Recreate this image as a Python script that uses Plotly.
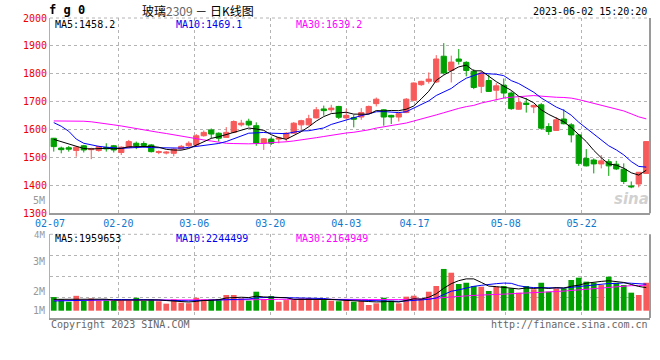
import plotly.graph_objects as go

# ---------------- data ----------------
dates = ["02-07", "02-08", "02-09", "02-10", "02-13", "02-14", "02-15", "02-16", "02-17",
         "02-20", "02-21", "02-22", "02-23", "02-24", "02-27", "02-28",
         "03-01", "03-02", "03-03", "03-06", "03-07", "03-08", "03-09", "03-10",
         "03-13", "03-14", "03-15", "03-16", "03-17", "03-20", "03-21", "03-22", "03-23", "03-24",
         "03-27", "03-28", "03-29", "03-30", "03-31",
         "04-03", "04-04", "04-06", "04-07", "04-10", "04-11", "04-12", "04-13", "04-14",
         "04-17", "04-18", "04-19", "04-20", "04-21", "04-24", "04-25", "04-26", "04-27", "04-28",
         "05-04", "05-05", "05-08", "05-09", "05-10", "05-11", "05-12",
         "05-15", "05-16", "05-17", "05-18", "05-19", "05-22", "05-23", "05-24", "05-25", "05-26",
         "05-29", "05-30", "05-31", "06-01", "06-02"]

opens = [1569, 1534, 1535, 1525, 1542, 1528, 1525, 1536, 1542, 1518,
         1536, 1551, 1550, 1545, 1518, 1516, 1515, 1531, 1542, 1545,
         1578, 1599, 1587, 1572, 1590, 1617, 1630, 1614, 1551, 1566,
         1566, 1569, 1587, 1617, 1617, 1642, 1674, 1671, 1683, 1642,
         1643, 1645, 1659, 1693, 1671, 1651, 1645, 1661, 1705, 1761,
         1773, 1771, 1863, 1812, 1853, 1841, 1809, 1755, 1776, 1741,
         1759, 1731, 1673, 1695, 1681, 1689, 1611, 1597, 1638, 1617,
         1581, 1497, 1491, 1477, 1485, 1476, 1458, 1398, 1405, 1443]
highs = [1570, 1539, 1541, 1541, 1545, 1535, 1542, 1551, 1545, 1540,
         1563, 1557, 1558, 1548, 1525, 1523, 1533, 1545, 1558, 1584,
         1597, 1604, 1590, 1609, 1633, 1635, 1639, 1626, 1570, 1575,
         1575, 1591, 1627, 1635, 1653, 1681, 1686, 1689, 1685, 1675,
         1653, 1677, 1686, 1715, 1673, 1653, 1661, 1713, 1769, 1775,
         1805, 1867, 1910, 1865, 1889, 1845, 1817, 1809, 1797, 1767,
         1783, 1737, 1715, 1713, 1689, 1695, 1623, 1645, 1673, 1623,
         1583, 1530, 1497, 1509, 1494, 1488, 1479, 1414, 1448, 1558]
lows = [1521, 1515, 1521, 1503, 1518, 1494, 1521, 1521, 1518, 1509,
        1533, 1530, 1535, 1518, 1512, 1511, 1504, 1528, 1538, 1541,
        1575, 1569, 1557, 1570, 1587, 1611, 1611, 1542, 1527, 1545,
        1551, 1557, 1585, 1593, 1615, 1640, 1650, 1661, 1638, 1636,
        1608, 1635, 1657, 1683, 1614, 1620, 1629, 1659, 1701, 1757,
        1765, 1767, 1797, 1769, 1833, 1791, 1745, 1731, 1735, 1705,
        1712, 1671, 1671, 1661, 1659, 1599, 1581, 1595, 1619, 1554,
        1470, 1468, 1443, 1461, 1434, 1455, 1405, 1390, 1393, 1441]
closes = [1539, 1528, 1530, 1537, 1527, 1531, 1539, 1531, 1527, 1537,
          1557, 1542, 1543, 1521, 1521, 1519, 1530, 1540, 1551, 1578,
          1590, 1584, 1569, 1590, 1629, 1623, 1617, 1551, 1567, 1551,
          1570, 1587, 1623, 1632, 1639, 1671, 1668, 1677, 1644, 1651,
          1637, 1661, 1683, 1709, 1645, 1645, 1657, 1709, 1767, 1773,
          1781, 1853, 1803, 1842, 1845, 1812, 1751, 1803, 1737, 1757,
          1731, 1675, 1697, 1690, 1687, 1605, 1593, 1635, 1621, 1581,
          1479, 1470, 1477, 1488, 1470, 1459, 1414, 1395, 1447, 1557]
# volume, millions
volumes_m = [1.13, 0.94, 0.74, 1.23, 0.82, 1.01, 0.83, 0.86, 0.83, 0.83,
             0.83, 1.07, 0.83, 0.94, 0.78, 0.58, 0.94, 0.66, 0.62, 1.07,
             0.94, 0.97, 0.97, 1.30, 1.30, 1.02, 0.83, 1.57, 0.97, 1.21,
             0.74, 0.88, 0.88, 1.02, 1.05, 0.88, 0.88, 0.83, 0.78, 0.97,
             0.74, 0.83, 0.47, 0.61, 1.07, 0.83, 0.61, 1.16, 1.24, 0.97,
             1.57, 2.04, 3.45, 3.14, 2.21, 2.31, 2.04, 1.98, 1.63, 1.98,
             2.04, 1.85, 1.49, 2.04, 1.77, 2.31, 1.57, 1.85, 1.85, 2.54,
             2.73, 2.40, 2.31, 2.12, 2.81, 2.31, 2.12, 1.49, 1.30, 2.31]

# moving-average values at the start of the window (they include days before 02-07)
ma5_lead = [1565, 1557, 1548, 1540]
ma10_lead = [1625, 1612, 1594, 1566, 1551, 1545, 1540, 1537, 1534]
ma30_lead = [1631, 1631, 1631, 1631, 1630, 1628, 1625, 1621, 1617, 1613,
             1608, 1603, 1598, 1594, 1590, 1586, 1581, 1576, 1571, 1567,
             1563, 1559, 1554, 1551, 1550, 1549, 1549, 1550, 1550]
vol_ma5_lead = [0.94, 0.94, 0.95, 0.96]
vol_ma10_lead = [0.80, 0.82, 0.85, 0.88, 0.90, 0.91, 0.92, 0.92, 0.92]
vol_ma30_lead = [0.86, 0.86, 0.86, 0.86, 0.86, 0.86, 0.86, 0.86, 0.86, 0.86,
                 0.86, 0.86, 0.86, 0.86, 0.85, 0.85, 0.85, 0.85, 0.85, 0.86,
                 0.86, 0.86, 0.87, 0.88, 0.89, 0.90, 0.90, 0.91, 0.92]

label_dates = ["02-07", "02-20", "03-06", "03-20", "04-03", "04-17", "05-08", "05-22"]
price_ticks = [1300, 1400, 1500, 1600, 1700, 1800, 1900, 2000]
vol_tick_labels = ["5M", "4M", "3M", "2M", "1M"]

title_code = "f g 0"
title_name = "玻璃"
title_contract = "2309"
title_tail = " － 日K线图"
timestamp = "2023-06-02 15:20:20"
price_ma_text = ["MA5:1458.2", "MA10:1469.1", "MA30:1639.2"]
vol_ma_text = ["MA5:1959653", "MA10:2244499", "MA30:2164949"]
footer_left = "Copyright 2023 SINA.COM"
footer_right = "http://finance.sina.com.cn"

# ---------------- helpers ----------------
def moving_avg(vals, n, lead):
    out = list(lead)
    for i in range(n - 1, len(vals)):
        out.append(sum(vals[i - n + 1:i + 1]) / n)
    return out

n = len(dates)
xs = list(range(n))
ma5 = moving_avg(closes, 5, ma5_lead)
ma10 = moving_avg(closes, 10, ma10_lead)
ma30 = moving_avg(closes, 30, ma30_lead)
vma5 = moving_avg(volumes_m, 5, vol_ma5_lead)
vma10 = moving_avg(volumes_m, 10, vol_ma10_lead)
vma30 = moving_avg(volumes_m, 30, vol_ma30_lead)

RED = "#f75a5a"
GREEN = "#00a000"
MONO = "DejaVu Sans Mono"
GRID = "#b4b4b4"
BORDER = "#9a9a9a"

W, H = 660, 360
L_PX, R_PX, T_PX, B_PX = 50, 650, 18, 318


def xp(px):
    return (px - L_PX) / (R_PX - L_PX)


def yp(py):
    return (B_PX - py) / (B_PX - T_PX)

# grid positions of date labels (Sina spaces them on n-1 steps)
idx_of = {d: i for i, d in enumerate(dates)}
grid_x = [idx_of[d] * n / (n - 1) - 0.5 for d in label_dates]

main_dom = [yp(213.3), 1.0]
vol_dom = [0.0, yp(234.3)]
# volume axis: zero at y=310.7 px, 12.1 px per million
vol_lo = -(B_PX - 310.7) / 12.1
vol_hi = (310.7 - 234.3) / 12.1
vol_grid = [vol_lo + k * (vol_hi - vol_lo) / 4 for k in (1, 2, 3)]

fig = go.Figure()

fig.add_trace(go.Candlestick(
    x=xs, open=opens, high=highs, low=lows, close=closes,
    increasing=dict(line=dict(color=RED, width=1), fillcolor=RED),
    decreasing=dict(line=dict(color=GREEN, width=1), fillcolor=GREEN),
    whiskerwidth=0, xaxis="x", yaxis="y", showlegend=False, hoverinfo="skip"))

for vals, col in ((ma30, "#ff00ff"), (ma10, "#0000ff"), (ma5, "#000000")):
    fig.add_trace(go.Scatter(x=xs, y=vals, mode="lines", line=dict(color=col, width=1),
                             xaxis="x", yaxis="y", showlegend=False, hoverinfo="skip"))

bar_colors = [RED if c >= o else GREEN for o, c in zip(opens, closes)]
fig.add_trace(go.Bar(x=xs, y=volumes_m, marker=dict(color=bar_colors, line=dict(width=0)),
                     xaxis="x2", yaxis="y2", showlegend=False, hoverinfo="skip"))
for vals, col in ((vma30, "#ff00ff"), (vma10, "#0000ff"), (vma5, "#000000")):
    fig.add_trace(go.Scatter(x=xs, y=vals, mode="lines", line=dict(color=col, width=1),
                             xaxis="x2", yaxis="y2", showlegend=False, hoverinfo="skip"))

xcommon = dict(range=[-0.5, n - 0.5], tickmode="array", tickvals=grid_x,
               showgrid=True, gridcolor=GRID, griddash="dot", gridwidth=1,
               zeroline=False, ticks="", fixedrange=True)

fig.update_layout(
    width=W, height=H,
    margin=dict(l=L_PX, r=W - R_PX, t=T_PX, b=H - B_PX),
    paper_bgcolor="white", plot_bgcolor="white",
    showlegend=False, bargap=0.24, boxgap=0.3, boxgroupgap=0,
    xaxis=dict(**xcommon, ticktext=label_dates, anchor="y",
               tickfont=dict(family=MONO, size=10, color="#1177cc"),
               showline=True, linecolor=BORDER, linewidth=2,
               rangeslider=dict(visible=False)),
    yaxis=dict(domain=main_dom, range=[1300, 2000], tickmode="array", tickvals=price_ticks,
               ticktext=[str(v) for v in price_ticks],
               tickfont=dict(family=MONO, size=10, color="#ee0000"),
               showgrid=True, gridcolor=GRID, griddash="dot", zeroline=False, ticks="",
               showline=True, linecolor="#b0b0b0", linewidth=1, fixedrange=True),
    xaxis2=dict(**xcommon, showticklabels=False, anchor="y2",
                showline=True, linecolor=BORDER, linewidth=2),
    yaxis2=dict(domain=vol_dom, range=[vol_lo, vol_hi], tickmode="array", tickvals=vol_grid,
                showticklabels=False, showgrid=True, gridcolor=GRID, griddash="dot",
                zeroline=False, ticks="", showline=True, linecolor="#b0b0b0", linewidth=1,
                fixedrange=True, anchor="x2"),
)

shapes = []
for xr, yr in (("x domain", "y domain"), ("x2 domain", "y2 domain")):
    shapes.append(dict(type="line", xref=xr, yref=yr, x0=1, x1=1, y0=0, y1=1,
                       line=dict(color=BORDER, width=2)))
    shapes.append(dict(type="line", xref=xr, yref=yr, x0=0, x1=1, y0=1, y1=1,
                       line=dict(color=GRID, width=1, dash="dot")))
fig.update_layout(shapes=shapes)

ann = []


def text(px, py, s, color="#000", size=10, anchor="left", family=MONO, **kw):
    ann.append(dict(xref="paper", yref="paper", x=xp(px), y=yp(py), text=s,
                    showarrow=False, xanchor=anchor, yanchor="middle",
                    font=dict(family=family, size=size, color=color), **kw))

text(47, 10, "<b>" + title_code + "</b>", size=12)
text(140, 10, title_name + "<span style='color:#666'>" + title_contract + "</span>" + title_tail,
     size=12, family="Noto Sans CJK SC")
text(649, 12, timestamp, anchor="right")
ma_cols = ["#000000", "#0000ee", "#ff00ff"]
for s, c, px in zip(price_ma_text, ma_cols, (53, 174, 294)):
    text(px, 24, s, color=c)
for s, c, px in zip(vol_ma_text, ma_cols, (53, 174, 294)):
    text(px, 238, s, color=c)
for s, py in zip(vol_tick_labels, (200.7, 235, 261, 291, 310)):
    text(47, py, s, color="#999999", anchor="right", size=10 if s != "4M" else 9)
text(49, 324, footer_left, color="#666666")
text(650, 324, footer_right, color="#666666", anchor="right")
text(651, 199, "<b><i>sina</i></b>", color="rgba(170,170,170,0.55)", size=15,
     anchor="right", family="DejaVu Sans")
fig.update_layout(annotations=ann)

fig.write_html("out.html", config={"displayModeBar": False},
               post_script="document.body.style.margin='0px';")
